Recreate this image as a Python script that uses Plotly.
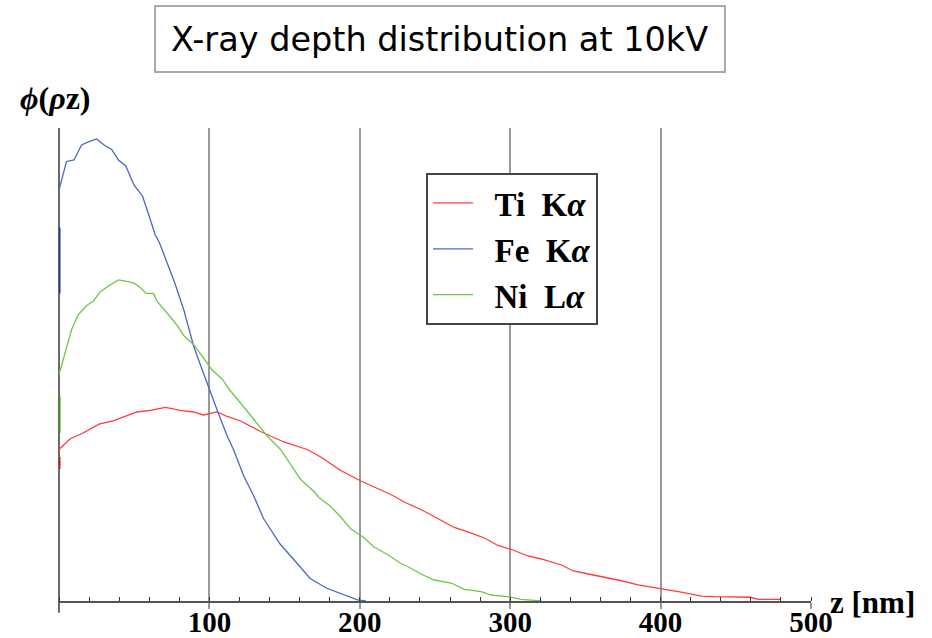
import plotly.graph_objects as go

# depth z [nm]
ti_z = [0, 7.3, 16, 27, 36, 51.8, 60.7, 70.7, 80.7, 89.5, 96, 105, 111.8, 120.7, 134, 149.5, 165, 174,
        187.3, 200.7, 214, 220.7, 229.5, 240.7, 251.8, 262.9, 271.8, 282.9, 291.8, 301.8, 311.8, 320.7,
        334, 342, 352, 363, 374, 385, 400.7, 411.8, 427.3, 436, 459.5, 465, 479.5]
ti_phi = [1.01, 1.08, 1.12, 1.18, 1.20, 1.26, 1.27, 1.29, 1.27, 1.26, 1.24, 1.26, 1.23, 1.20, 1.13, 1.06,
          1.01, 0.96, 0.87, 0.80, 0.74, 0.71, 0.66, 0.61, 0.55, 0.49, 0.46, 0.42, 0.37, 0.34, 0.30, 0.28,
          0.24, 0.20, 0.18, 0.16, 0.135, 0.107, 0.082, 0.062, 0.033, 0.029, 0.025, 0.011, 0.011]

fe_z = [0, 5, 10, 15, 19.5, 25, 30, 35, 39.5, 44.4, 50, 55.5, 59.5, 64, 66.7, 71, 77, 83, 89.5, 96,
        100.7, 106, 111.8, 116, 123, 129.5, 136, 140.7, 147, 158.4, 167, 178, 189.5, 198.5, 204]
fe_phi = [2.74, 2.93, 2.94, 3.04, 3.06, 3.08, 3.04, 3.01, 2.94, 2.90, 2.77, 2.70, 2.58, 2.44, 2.39, 2.28,
          2.12, 1.94, 1.70, 1.52, 1.39, 1.25, 1.10, 1.01, 0.83, 0.70, 0.55, 0.48, 0.38, 0.25, 0.15, 0.085,
          0.04, 0.007, 0.0]

ni_z = [0, 4, 8.4, 12.9, 18.4, 22.9, 27.3, 32.9, 39.5, 45, 49.5, 54, 58, 62.9, 65, 71.8, 78.4, 82.9, 89.5,
        96, 101.8, 108.4, 114, 120.7, 129.5, 138.4, 147.3, 154, 160.7, 169.5, 172.9, 180.7, 187.3, 194,
        201.8, 209.5, 218.4, 227.3, 231.8, 240.7, 249.5, 260.7, 269.5, 280.7, 287.3, 298.4, 307.3, 320.7]
ni_phi = [1.51, 1.65, 1.81, 1.91, 1.97, 2.00, 2.06, 2.10, 2.14, 2.13, 2.12, 2.09, 2.05, 2.05, 2.00, 1.92,
          1.84, 1.77, 1.71, 1.62, 1.54, 1.48, 1.40, 1.32, 1.21, 1.10, 1.01, 0.91, 0.81, 0.73, 0.69, 0.63,
          0.56, 0.48, 0.43, 0.36, 0.31, 0.25, 0.23, 0.18, 0.14, 0.12, 0.078, 0.062, 0.04, 0.029, 0.011, 0.0]

# short surface marks drawn on the phi axis (low, high)
ti_mark = [0.88, 0.96]
fe_mark = [2.05, 2.49]
ni_mark = [1.12, 1.37]

names = ["Ti\u2002K<i>α</i>", "Fe\u2002K<i>α</i>", "Ni\u2002L<i>α</i>"]
colors = ["#ff3b3b", "#4a68c0", "#6cc84a"]
mark_colors = ["#e01010", "#1a3a9a", "#3a9a20"]

x_ticks = [100, 200, 300, 400, 500]
x_ticktext = ["100", "200", "300", "400", "500"]

fig = go.Figure()
for z, phi, name, c in zip([ti_z, fe_z, ni_z], [ti_phi, fe_phi, ni_phi], names, colors):
    fig.add_trace(go.Scatter(x=z, y=phi, mode="lines", name="<b>\u00a0\u00a0" + name + "</b>",
                             line=dict(color=c, width=1.3)))
for m, c in zip([ti_mark, fe_mark, ni_mark], mark_colors):
    fig.add_trace(go.Scatter(x=[0, 0], y=m, mode="lines", showlegend=False,
                             line=dict(color=c, width=3), hoverinfo="skip"))

fig.update_layout(
    width=932, height=638,
    margin=dict(l=59, r=121, t=128, b=37, autoexpand=False),
    paper_bgcolor="white", plot_bgcolor="white",
    showlegend=True,
    legend=dict(x=0.488, y=0.905, xanchor="left", yanchor="top",
                bordercolor="#444", borderwidth=2, bgcolor="white",
                font=dict(family="Liberation Serif", size=33, color="black"),
                itemwidth=40, tracegroupgap=0),
    xaxis=dict(range=[0, 500], tickmode="array", tickvals=x_ticks, ticktext=x_ticktext,
               showgrid=True, gridcolor="#999", gridwidth=1.5,
               showline=True, linecolor="#555", linewidth=2,
               ticks="outside", ticklen=6, tickcolor="#999", tickwidth=1.5,
               ticklabelstandoff=-12,
               tickfont=dict(family="Liberation Serif", size=29, color="black", weight="bold"),
               zeroline=False, automargin=False,
               minor=dict(dtick=20, ticks="inside", ticklen=4, tickcolor="#333", tickwidth=1.2, showgrid=False)),
    yaxis=dict(range=[0, 3.153], showgrid=False, zeroline=False, showticklabels=False,
               ticks="", showline=False, automargin=False),
    shapes=[
        dict(type="line", xref="paper", yref="paper", x0=0, x1=0, y0=-0.025, y1=1.0,
             line=dict(color="#444", width=1.6), layer="below"),
        dict(type="rect", xref="paper", yref="paper", x0=0.1277, x1=0.8856, y0=1.1184, y1=1.258,
             line=dict(color="#aaa", width=2), fillcolor="white"),
    ],
    annotations=[
        dict(text="X-ray depth distribution at 10kV", xref="paper", yref="paper", x=0.5066, y=1.188,
             xanchor="center", yanchor="middle", showarrow=False,
             font=dict(family="DejaVu Sans", size=33.5, color="black")),
        dict(text="<b><i>\u03d5</i>(<i>ρ</i>z)</b>", xref="paper", yref="paper", x=-0.054, y=1.063,
             xanchor="left", yanchor="middle", showarrow=False,
             font=dict(family="Liberation Serif", size=32, color="black")),
        dict(text="<b>z [nm]</b>", xref="paper", yref="paper", x=1.023, y=-0.004,
             xanchor="left", yanchor="middle", showarrow=False,
             font=dict(family="Liberation Serif", size=31, color="black")),
    ],
)

fig.write_html("out.html")
